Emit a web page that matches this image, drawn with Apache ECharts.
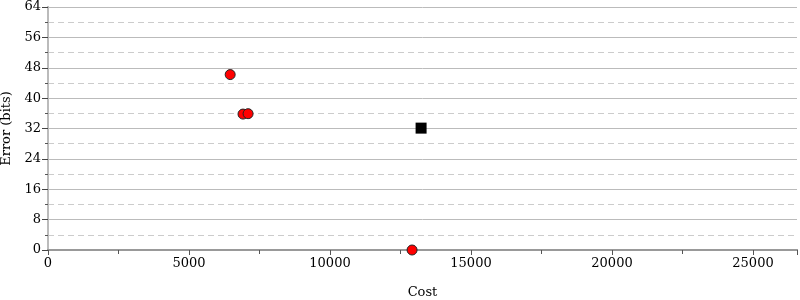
<!DOCTYPE html>
<html><head><meta charset="utf-8">
<script src="https://cdn.jsdelivr.net/npm/echarts@6/dist/echarts.min.js"></script>
<style>html,body{margin:0;padding:0;background:#fff}#c{width:800px;height:300px}</style>
</head><body><div id="c"></div>
<script>
const redPoints = [[6460, 46.2], [6915, 35.8], [7095, 35.9], [12910, 0]];
const blackPoints = [[13230, 32.1]];
const xMax = 26560;
const yMax = 64;
const font = "DejaVu Serif";
const chart = echarts.init(document.getElementById('c'));
chart.setOption({
  animation: false,
  grid: {left: 48, right: 3, top: 7, bottom: 50, containLabel: false, outerBoundsMode: 'none'},
  xAxis: [{
    type: 'value', min: 0, max: xMax, interval: 5000, position: 'bottom',
    name: 'Cost', nameLocation: 'middle', nameGap: 36,
    nameTextStyle: {fontFamily: font, fontSize: 13, color: '#000'},
    axisLine: {show: true, lineStyle: {color: '#999', width: 2}},
    axisTick: {show: true, inside: false, length: 5, lineStyle: {color: '#555'}},
    minorTick: {show: true, splitNumber: 2, length: 4, lineStyle: {color: '#555'}},
    axisLabel: {fontFamily: font, fontSize: 13, color: '#000', margin: 7,
      formatter: v => (v % 5000 === 0 ? String(v) : '')},
    splitLine: {show: false}
  }, {
    type: 'value', min: 0, max: xMax, position: 'top',
    axisLine: {show: true, lineStyle: {color: '#999', width: 2}},
    axisTick: {show: false}, axisLabel: {show: false}, splitLine: {show: false}
  }],
  yAxis: [{
    type: 'value', min: 0, max: yMax, interval: 8, position: 'left',
    name: 'Error (bits)', nameLocation: 'middle', nameGap: 33, nameRotate: 90,
    nameTextStyle: {fontFamily: font, fontSize: 13, color: '#000'},
    axisLine: {show: true, lineStyle: {color: '#bbb', width: 2}},
    axisTick: {show: true, length: 6, lineStyle: {color: '#222'}},
    minorTick: {show: true, splitNumber: 2, length: 3, lineStyle: {color: '#555'}},
    axisLabel: {fontFamily: font, fontSize: 13, color: '#000', margin: 7},
    splitLine: {show: true, lineStyle: {color: '#bbb', width: 1}},
    minorSplitLine: {show: true, lineStyle: {color: '#ccc', width: 1, type: [6, 4]}}
  }, {
    type: 'value', min: 0, max: yMax, interval: 8, position: 'right',
    axisLine: {show: true, lineStyle: {color: '#bbb', width: 2}},
    axisTick: {show: true, inside: true, length: 6, lineStyle: {color: '#444'}},
    minorTick: {show: true, splitNumber: 2, length: 3, lineStyle: {color: '#555'}},
    axisLabel: {show: false}, splitLine: {show: false}
  }],
  series: [{
    type: 'scatter', data: redPoints, symbol: 'circle', symbolSize: 10,
    itemStyle: {color: '#ff0000', opacity: 1, borderColor: '#222', borderWidth: 1}
  }, {
    type: 'scatter', data: blackPoints, symbol: 'rect', symbolSize: 11,
    itemStyle: {color: '#000', opacity: 1}
  }]
});
</script></body></html>
